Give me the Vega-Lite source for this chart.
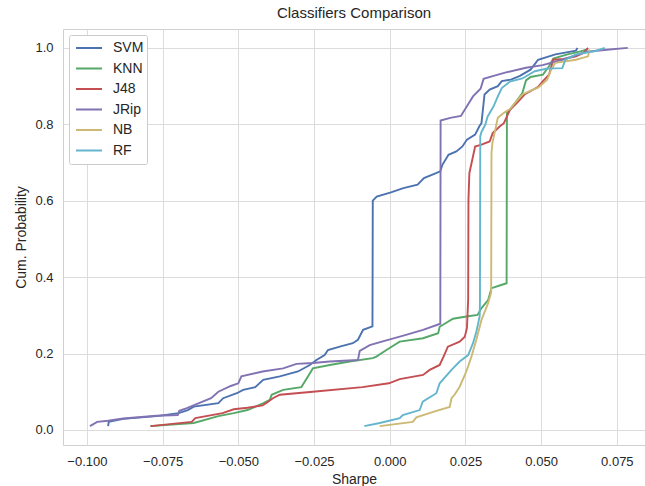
{
  "$schema": "https://vega.github.io/schema/vega-lite/v6.json",
  "width": 582,
  "height": 416,
  "autosize": {"type": "none"},
  "padding": {"left": 63, "top": 29, "right": 0, "bottom": 41},
  "background": "white",
  "title": {"text": "Classifiers Comparison", "fontSize": 15, "fontWeight": "normal", "font": "Liberation Sans", "color": "#262626", "offset": 8, "anchor": "middle"},
  "config": {
    "view": {"stroke": "#d0d0d0", "strokeWidth": 1},
    "axis": {
      "domain": false, "ticks": false, "tickSize": 0,
      "grid": true, "gridColor": "#dcdcdc", "gridWidth": 1,
      "labelFont": "Liberation Sans", "labelFontSize": 13, "labelColor": "#262626", "labelPadding": 10,
      "titleFont": "Liberation Sans", "titleFontSize": 14, "titleFontWeight": "normal", "titleColor": "#262626"
    },
    "legend": {
      "orient": "none", "legendX": 6, "legendY": 6, "padding": 3,
      "strokeColor": "#cccccc", "fillColor": "white", "cornerRadius": 2,
      "symbolType": "stroke", "symbolSize": 676, "symbolStrokeWidth": 2,
      "clipHeight": 20, "rowPadding": 0.5, "symbolOffset": 3, "labelOffset": 10,
      "labelFont": "Liberation Sans", "labelFontSize": 14, "labelColor": "#262626"
    }
  },
  "data": {"values": [
    {"classifier": "SVM", "sharpe": -0.093, "prob": 0.01},
    {"classifier": "SVM", "sharpe": -0.0928, "prob": 0.021},
    {"classifier": "SVM", "sharpe": -0.088, "prob": 0.029},
    {"classifier": "SVM", "sharpe": -0.077, "prob": 0.036},
    {"classifier": "SVM", "sharpe": -0.0697, "prob": 0.044},
    {"classifier": "SVM", "sharpe": -0.0667, "prob": 0.052},
    {"classifier": "SVM", "sharpe": -0.0647, "prob": 0.061},
    {"classifier": "SVM", "sharpe": -0.0566, "prob": 0.07},
    {"classifier": "SVM", "sharpe": -0.055, "prob": 0.083},
    {"classifier": "SVM", "sharpe": -0.0505, "prob": 0.096},
    {"classifier": "SVM", "sharpe": -0.0484, "prob": 0.105},
    {"classifier": "SVM", "sharpe": -0.0444, "prob": 0.112},
    {"classifier": "SVM", "sharpe": -0.0418, "prob": 0.131},
    {"classifier": "SVM", "sharpe": -0.0363, "prob": 0.14},
    {"classifier": "SVM", "sharpe": -0.0303, "prob": 0.153},
    {"classifier": "SVM", "sharpe": -0.0264, "prob": 0.17},
    {"classifier": "SVM", "sharpe": -0.0242, "prob": 0.183},
    {"classifier": "SVM", "sharpe": -0.0215, "prob": 0.196},
    {"classifier": "SVM", "sharpe": -0.0204, "prob": 0.209},
    {"classifier": "SVM", "sharpe": -0.0165, "prob": 0.218},
    {"classifier": "SVM", "sharpe": -0.0122, "prob": 0.227},
    {"classifier": "SVM", "sharpe": -0.0105, "prob": 0.236},
    {"classifier": "SVM", "sharpe": -0.0088, "prob": 0.262},
    {"classifier": "SVM", "sharpe": -0.0057, "prob": 0.271},
    {"classifier": "SVM", "sharpe": -0.0056, "prob": 0.6},
    {"classifier": "SVM", "sharpe": -0.0043, "prob": 0.611},
    {"classifier": "SVM", "sharpe": 0.0004, "prob": 0.622},
    {"classifier": "SVM", "sharpe": 0.0045, "prob": 0.633},
    {"classifier": "SVM", "sharpe": 0.0092, "prob": 0.642},
    {"classifier": "SVM", "sharpe": 0.0113, "prob": 0.659},
    {"classifier": "SVM", "sharpe": 0.0153, "prob": 0.672},
    {"classifier": "SVM", "sharpe": 0.0167, "prob": 0.677},
    {"classifier": "SVM", "sharpe": 0.0174, "prob": 0.694},
    {"classifier": "SVM", "sharpe": 0.0194, "prob": 0.72},
    {"classifier": "SVM", "sharpe": 0.022, "prob": 0.729},
    {"classifier": "SVM", "sharpe": 0.024, "prob": 0.742},
    {"classifier": "SVM", "sharpe": 0.0255, "prob": 0.76},
    {"classifier": "SVM", "sharpe": 0.0282, "prob": 0.773},
    {"classifier": "SVM", "sharpe": 0.0296, "prob": 0.795},
    {"classifier": "SVM", "sharpe": 0.0303, "prob": 0.803},
    {"classifier": "SVM", "sharpe": 0.0313, "prob": 0.878},
    {"classifier": "SVM", "sharpe": 0.033, "prob": 0.891},
    {"classifier": "SVM", "sharpe": 0.0357, "prob": 0.9},
    {"classifier": "SVM", "sharpe": 0.037, "prob": 0.913},
    {"classifier": "SVM", "sharpe": 0.04, "prob": 0.917},
    {"classifier": "SVM", "sharpe": 0.043, "prob": 0.927},
    {"classifier": "SVM", "sharpe": 0.0465, "prob": 0.943},
    {"classifier": "SVM", "sharpe": 0.049, "prob": 0.969},
    {"classifier": "SVM", "sharpe": 0.0547, "prob": 0.983},
    {"classifier": "SVM", "sharpe": 0.0615, "prob": 0.993},
    {"classifier": "SVM", "sharpe": 0.062, "prob": 1.0},

    {"classifier": "KNN", "sharpe": -0.079, "prob": 0.01},
    {"classifier": "KNN", "sharpe": -0.0647, "prob": 0.018},
    {"classifier": "KNN", "sharpe": -0.0566, "prob": 0.036},
    {"classifier": "KNN", "sharpe": -0.0515, "prob": 0.044},
    {"classifier": "KNN", "sharpe": -0.047, "prob": 0.052},
    {"classifier": "KNN", "sharpe": -0.0417, "prob": 0.07},
    {"classifier": "KNN", "sharpe": -0.0396, "prob": 0.079},
    {"classifier": "KNN", "sharpe": -0.039, "prob": 0.092},
    {"classifier": "KNN", "sharpe": -0.0352, "prob": 0.105},
    {"classifier": "KNN", "sharpe": -0.0292, "prob": 0.112},
    {"classifier": "KNN", "sharpe": -0.027, "prob": 0.14},
    {"classifier": "KNN", "sharpe": -0.0254, "prob": 0.161},
    {"classifier": "KNN", "sharpe": -0.0198, "prob": 0.17},
    {"classifier": "KNN", "sharpe": -0.0132, "prob": 0.179},
    {"classifier": "KNN", "sharpe": -0.0056, "prob": 0.188},
    {"classifier": "KNN", "sharpe": -0.0044, "prob": 0.192},
    {"classifier": "KNN", "sharpe": -0.0011, "prob": 0.209},
    {"classifier": "KNN", "sharpe": 0.0033, "prob": 0.231},
    {"classifier": "KNN", "sharpe": 0.011, "prob": 0.24},
    {"classifier": "KNN", "sharpe": 0.016, "prob": 0.253},
    {"classifier": "KNN", "sharpe": 0.0165, "prob": 0.27},
    {"classifier": "KNN", "sharpe": 0.0209, "prob": 0.291},
    {"classifier": "KNN", "sharpe": 0.0253, "prob": 0.297},
    {"classifier": "KNN", "sharpe": 0.029, "prob": 0.301},
    {"classifier": "KNN", "sharpe": 0.0303, "prob": 0.319},
    {"classifier": "KNN", "sharpe": 0.0325, "prob": 0.34},
    {"classifier": "KNN", "sharpe": 0.0336, "prob": 0.371},
    {"classifier": "KNN", "sharpe": 0.0363, "prob": 0.378},
    {"classifier": "KNN", "sharpe": 0.0386, "prob": 0.384},
    {"classifier": "KNN", "sharpe": 0.0387, "prob": 0.83},
    {"classifier": "KNN", "sharpe": 0.0397, "prob": 0.838},
    {"classifier": "KNN", "sharpe": 0.0438, "prob": 0.882},
    {"classifier": "KNN", "sharpe": 0.045, "prob": 0.915},
    {"classifier": "KNN", "sharpe": 0.0465, "prob": 0.924},
    {"classifier": "KNN", "sharpe": 0.0506, "prob": 0.93},
    {"classifier": "KNN", "sharpe": 0.0526, "prob": 0.952},
    {"classifier": "KNN", "sharpe": 0.054, "prob": 0.972},
    {"classifier": "KNN", "sharpe": 0.0587, "prob": 0.983},
    {"classifier": "KNN", "sharpe": 0.063, "prob": 0.991},
    {"classifier": "KNN", "sharpe": 0.0655, "prob": 0.997},

    {"classifier": "J48", "sharpe": -0.079, "prob": 0.01},
    {"classifier": "J48", "sharpe": -0.0654, "prob": 0.021},
    {"classifier": "J48", "sharpe": -0.0642, "prob": 0.031},
    {"classifier": "J48", "sharpe": -0.0552, "prob": 0.044},
    {"classifier": "J48", "sharpe": -0.0515, "prob": 0.054},
    {"classifier": "J48", "sharpe": -0.047, "prob": 0.058},
    {"classifier": "J48", "sharpe": -0.042, "prob": 0.064},
    {"classifier": "J48", "sharpe": -0.0405, "prob": 0.072},
    {"classifier": "J48", "sharpe": -0.0386, "prob": 0.083},
    {"classifier": "J48", "sharpe": -0.0363, "prob": 0.092},
    {"classifier": "J48", "sharpe": -0.0254, "prob": 0.1},
    {"classifier": "J48", "sharpe": -0.009, "prob": 0.112},
    {"classifier": "J48", "sharpe": -0.0003, "prob": 0.122},
    {"classifier": "J48", "sharpe": 0.0033, "prob": 0.133},
    {"classifier": "J48", "sharpe": 0.011, "prob": 0.144},
    {"classifier": "J48", "sharpe": 0.0132, "prob": 0.157},
    {"classifier": "J48", "sharpe": 0.0165, "prob": 0.17},
    {"classifier": "J48", "sharpe": 0.018, "prob": 0.196},
    {"classifier": "J48", "sharpe": 0.0192, "prob": 0.218},
    {"classifier": "J48", "sharpe": 0.0231, "prob": 0.231},
    {"classifier": "J48", "sharpe": 0.0248, "prob": 0.244},
    {"classifier": "J48", "sharpe": 0.0255, "prob": 0.267},
    {"classifier": "J48", "sharpe": 0.0259, "prob": 0.34},
    {"classifier": "J48", "sharpe": 0.026, "prob": 0.603},
    {"classifier": "J48", "sharpe": 0.0263, "prob": 0.672},
    {"classifier": "J48", "sharpe": 0.0269, "prob": 0.694},
    {"classifier": "J48", "sharpe": 0.0282, "prob": 0.742},
    {"classifier": "J48", "sharpe": 0.0303, "prob": 0.747},
    {"classifier": "J48", "sharpe": 0.033, "prob": 0.755},
    {"classifier": "J48", "sharpe": 0.034, "prob": 0.777},
    {"classifier": "J48", "sharpe": 0.0364, "prob": 0.795},
    {"classifier": "J48", "sharpe": 0.0377, "prob": 0.803},
    {"classifier": "J48", "sharpe": 0.0397, "prob": 0.838},
    {"classifier": "J48", "sharpe": 0.0425, "prob": 0.86},
    {"classifier": "J48", "sharpe": 0.0445, "prob": 0.878},
    {"classifier": "J48", "sharpe": 0.0479, "prob": 0.893},
    {"classifier": "J48", "sharpe": 0.049, "prob": 0.898},
    {"classifier": "J48", "sharpe": 0.0506, "prob": 0.913},
    {"classifier": "J48", "sharpe": 0.0526, "prob": 0.93},
    {"classifier": "J48", "sharpe": 0.054, "prob": 0.969},
    {"classifier": "J48", "sharpe": 0.0574, "prob": 0.971},
    {"classifier": "J48", "sharpe": 0.0615, "prob": 0.978},
    {"classifier": "J48", "sharpe": 0.064, "prob": 0.987},
    {"classifier": "J48", "sharpe": 0.0655, "prob": 1.0},

    {"classifier": "JRip", "sharpe": -0.099, "prob": 0.01},
    {"classifier": "JRip", "sharpe": -0.0966, "prob": 0.021},
    {"classifier": "JRip", "sharpe": -0.093, "prob": 0.024},
    {"classifier": "JRip", "sharpe": -0.088, "prob": 0.03},
    {"classifier": "JRip", "sharpe": -0.077, "prob": 0.037},
    {"classifier": "JRip", "sharpe": -0.07, "prob": 0.039},
    {"classifier": "JRip", "sharpe": -0.0695, "prob": 0.05},
    {"classifier": "JRip", "sharpe": -0.067, "prob": 0.057},
    {"classifier": "JRip", "sharpe": -0.063, "prob": 0.07},
    {"classifier": "JRip", "sharpe": -0.059, "prob": 0.083},
    {"classifier": "JRip", "sharpe": -0.0566, "prob": 0.1},
    {"classifier": "JRip", "sharpe": -0.0525, "prob": 0.115},
    {"classifier": "JRip", "sharpe": -0.05, "prob": 0.122},
    {"classifier": "JRip", "sharpe": -0.049, "prob": 0.14},
    {"classifier": "JRip", "sharpe": -0.042, "prob": 0.153},
    {"classifier": "JRip", "sharpe": -0.0352, "prob": 0.161},
    {"classifier": "JRip", "sharpe": -0.0308, "prob": 0.173},
    {"classifier": "JRip", "sharpe": -0.0254, "prob": 0.175},
    {"classifier": "JRip", "sharpe": -0.0198, "prob": 0.179},
    {"classifier": "JRip", "sharpe": -0.0105, "prob": 0.183},
    {"classifier": "JRip", "sharpe": -0.0099, "prob": 0.207},
    {"classifier": "JRip", "sharpe": -0.0066, "prob": 0.222},
    {"classifier": "JRip", "sharpe": -0.0023, "prob": 0.232},
    {"classifier": "JRip", "sharpe": 0.0045, "prob": 0.247},
    {"classifier": "JRip", "sharpe": 0.011, "prob": 0.262},
    {"classifier": "JRip", "sharpe": 0.0167, "prob": 0.278},
    {"classifier": "JRip", "sharpe": 0.0168, "prob": 0.81},
    {"classifier": "JRip", "sharpe": 0.02, "prob": 0.817},
    {"classifier": "JRip", "sharpe": 0.0235, "prob": 0.822},
    {"classifier": "JRip", "sharpe": 0.026, "prob": 0.854},
    {"classifier": "JRip", "sharpe": 0.0275, "prob": 0.873},
    {"classifier": "JRip", "sharpe": 0.03, "prob": 0.893},
    {"classifier": "JRip", "sharpe": 0.031, "prob": 0.919},
    {"classifier": "JRip", "sharpe": 0.0343, "prob": 0.927},
    {"classifier": "JRip", "sharpe": 0.0384, "prob": 0.936},
    {"classifier": "JRip", "sharpe": 0.045, "prob": 0.948},
    {"classifier": "JRip", "sharpe": 0.0505, "prob": 0.955},
    {"classifier": "JRip", "sharpe": 0.057, "prob": 0.969},
    {"classifier": "JRip", "sharpe": 0.065, "prob": 0.99},
    {"classifier": "JRip", "sharpe": 0.0717, "prob": 0.995},
    {"classifier": "JRip", "sharpe": 0.0786, "prob": 1.0},

    {"classifier": "NB", "sharpe": -0.0033, "prob": 0.01},
    {"classifier": "NB", "sharpe": 0.0076, "prob": 0.021},
    {"classifier": "NB", "sharpe": 0.0088, "prob": 0.033},
    {"classifier": "NB", "sharpe": 0.0154, "prob": 0.05},
    {"classifier": "NB", "sharpe": 0.0198, "prob": 0.06},
    {"classifier": "NB", "sharpe": 0.0204, "prob": 0.083},
    {"classifier": "NB", "sharpe": 0.0214, "prob": 0.092},
    {"classifier": "NB", "sharpe": 0.0231, "prob": 0.113},
    {"classifier": "NB", "sharpe": 0.0253, "prob": 0.153},
    {"classifier": "NB", "sharpe": 0.027, "prob": 0.192},
    {"classifier": "NB", "sharpe": 0.0286, "prob": 0.236},
    {"classifier": "NB", "sharpe": 0.0303, "prob": 0.288},
    {"classifier": "NB", "sharpe": 0.0325, "prob": 0.332},
    {"classifier": "NB", "sharpe": 0.0335, "prob": 0.36},
    {"classifier": "NB", "sharpe": 0.0336, "prob": 0.725},
    {"classifier": "NB", "sharpe": 0.0339, "prob": 0.751},
    {"classifier": "NB", "sharpe": 0.0357, "prob": 0.817},
    {"classifier": "NB", "sharpe": 0.0377, "prob": 0.83},
    {"classifier": "NB", "sharpe": 0.0397, "prob": 0.84},
    {"classifier": "NB", "sharpe": 0.0418, "prob": 0.86},
    {"classifier": "NB", "sharpe": 0.0438, "prob": 0.878},
    {"classifier": "NB", "sharpe": 0.0465, "prob": 0.888},
    {"classifier": "NB", "sharpe": 0.049, "prob": 0.896},
    {"classifier": "NB", "sharpe": 0.052, "prob": 0.917},
    {"classifier": "NB", "sharpe": 0.0533, "prob": 0.943},
    {"classifier": "NB", "sharpe": 0.0547, "prob": 0.961},
    {"classifier": "NB", "sharpe": 0.0615, "prob": 0.969},
    {"classifier": "NB", "sharpe": 0.0655, "prob": 0.978},
    {"classifier": "NB", "sharpe": 0.066, "prob": 0.996},

    {"classifier": "RF", "sharpe": -0.0084, "prob": 0.01},
    {"classifier": "RF", "sharpe": -0.0033, "prob": 0.018},
    {"classifier": "RF", "sharpe": 0.0033, "prob": 0.031},
    {"classifier": "RF", "sharpe": 0.0043, "prob": 0.039},
    {"classifier": "RF", "sharpe": 0.0099, "prob": 0.052},
    {"classifier": "RF", "sharpe": 0.0109, "prob": 0.074},
    {"classifier": "RF", "sharpe": 0.0154, "prob": 0.096},
    {"classifier": "RF", "sharpe": 0.0165, "prob": 0.122},
    {"classifier": "RF", "sharpe": 0.0204, "prob": 0.157},
    {"classifier": "RF", "sharpe": 0.0231, "prob": 0.179},
    {"classifier": "RF", "sharpe": 0.0259, "prob": 0.196},
    {"classifier": "RF", "sharpe": 0.0275, "prob": 0.227},
    {"classifier": "RF", "sharpe": 0.0286, "prob": 0.257},
    {"classifier": "RF", "sharpe": 0.0297, "prob": 0.297},
    {"classifier": "RF", "sharpe": 0.0298, "prob": 0.34},
    {"classifier": "RF", "sharpe": 0.0299, "prob": 0.769},
    {"classifier": "RF", "sharpe": 0.0303, "prob": 0.78},
    {"classifier": "RF", "sharpe": 0.0316, "prob": 0.8},
    {"classifier": "RF", "sharpe": 0.0323, "prob": 0.82},
    {"classifier": "RF", "sharpe": 0.0343, "prob": 0.847},
    {"classifier": "RF", "sharpe": 0.0357, "prob": 0.873},
    {"classifier": "RF", "sharpe": 0.037, "prob": 0.895},
    {"classifier": "RF", "sharpe": 0.0397, "prob": 0.912},
    {"classifier": "RF", "sharpe": 0.0438, "prob": 0.92},
    {"classifier": "RF", "sharpe": 0.0479, "prob": 0.939},
    {"classifier": "RF", "sharpe": 0.052, "prob": 0.946},
    {"classifier": "RF", "sharpe": 0.057, "prob": 0.947},
    {"classifier": "RF", "sharpe": 0.058, "prob": 0.969},
    {"classifier": "RF", "sharpe": 0.0615, "prob": 0.983},
    {"classifier": "RF", "sharpe": 0.068, "prob": 0.992},
    {"classifier": "RF", "sharpe": 0.071, "prob": 1.0}
  ]},
  "mark": {"type": "line", "strokeWidth": 1.9, "clip": true},
  "encoding": {
    "x": {
      "field": "sharpe", "type": "quantitative",
      "scale": {"domain": [-0.1079, 0.0843], "nice": false, "zero": false},
      "axis": {"values": [-0.1, -0.075, -0.05, -0.025, 0, 0.025, 0.05, 0.075], "format": ".3f", "title": "Sharpe", "titlePadding": 4}
    },
    "y": {
      "field": "prob", "type": "quantitative",
      "scale": {"domain": [-0.0395, 1.0495], "nice": false, "zero": false},
      "axis": {"values": [0, 0.2, 0.4, 0.6, 0.8, 1.0], "format": ".1f", "title": "Cum. Probability", "titlePadding": 6}
    },
    "color": {
      "field": "classifier", "type": "nominal",
      "scale": {"domain": ["SVM", "KNN", "J48", "JRip", "NB", "RF"], "range": ["#4c72b0", "#55a868", "#c44e52", "#8172b2", "#ccb974", "#64b5cd"]},
      "legend": {"title": null}
    },
    "order": {"field": "prob", "type": "quantitative"}
  }
}
